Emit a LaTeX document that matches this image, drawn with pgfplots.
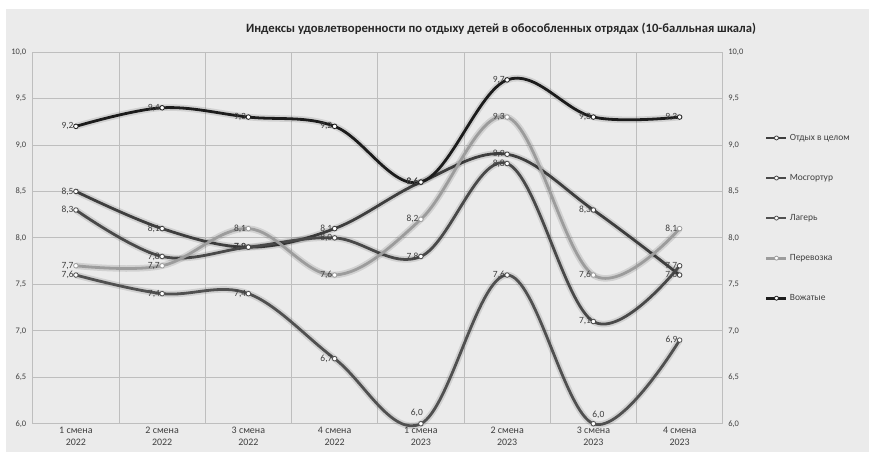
\documentclass[border=0pt]{standalone}
\usepackage{fontspec}
\setmainfont{Carlito}
\usepackage{pgfplots}
\usepackage{pgfplotstable}
\pgfplotsset{compat=1.18}
\definecolor{bgc}{HTML}{EBEBEB}
\definecolor{gridc}{HTML}{BEBEBE}
\definecolor{txtc}{HTML}{404040}
\definecolor{cvoz}{HTML}{1C1C1C}
\definecolor{cper}{HTML}{9C9C9C}
\definecolor{cotd}{HTML}{3E3E3E}
\definecolor{cmos}{HTML}{494949}
\definecolor{clag}{HTML}{505050}

\pgfplotstableread{
x otd mos lag per voz
0 8.5 8.3 7.6 7.7 9.2
1 8.1 7.8 7.4 7.7 9.4
2 7.9 7.9 7.4 8.1 9.3
3 8.1 8.0 6.7 7.6 9.2
4 8.6 7.8 6.0 8.2 8.6
5 8.9 8.8 7.6 9.3 9.7
6 8.3 7.1 6.0 7.6 9.3
7 7.6 7.7 6.9 8.1 9.3
}\data

\begin{document}
\begin{tikzpicture}[x=1bp,y=1bp]
\path[use as bounding box] (0,0) rectangle (869,457);
\fill[white] (0,0) rectangle (869,457);
\fill[bgc] (6,5) rectangle (869,448);
\node[font=\bfseries\fontsize{12.7}{14}\selectfont, text=black!85] at (501,428) {Индексы удовлетворенности по отдыху детей в обособленных отрядах (10-балльная шкала)};
\pgfplotsset{
  glow/.style={forget plot, smooth, tension=0.6, no markers, line width=6.5bp, draw=black, opacity=0.11},
  ser/.style={smooth, tension=0.6, line width=2.8bp, draw=#1, mark=*, mark size=2.3bp,
    mark options={fill=white, draw=#1, line width=0.8bp, solid}},
  lbl/.style={nodes near coords={\pgfmathprintnumber[fixed, fixed zerofill, precision=1, use comma, assume math mode=true]{\pgfplotspointmeta}},
    point meta=y,
    nodes near coords style={anchor=east, font=\fontsize{9.5}{10}\selectfont, text=txtc, inner sep=2bp}},
}
\begin{axis}[
  at={(38,35.8)}, anchor=south west, scale only axis,
  width=690bp, height=371.7bp,
  xmin=-0.5, xmax=7.5, ymin=6, ymax=10,
  clip=false,
  xtick={0,...,7},
  xticklabels={{1 смена\\2022},{2 смена\\2022},{3 смена\\2022},{4 смена\\2022},{1 смена\\2023},{2 смена\\2023},{3 смена\\2023},{4 смена\\2023}},
  xticklabel style={align=center, font=\fontsize{10}{11.5}\selectfont, text=txtc},
  minor xtick={-0.5,0.5,1.5,2.5,3.5,4.5,5.5,6.5,7.5},
  xminorgrids=true, xmajorgrids=false,
  ytick={6,6.5,7,7.5,8,8.5,9,9.5,10},
  ymajorgrids=true,
  grid style={draw=gridc, line width=0.8bp},
  minor grid style={draw=gridc, line width=0.8bp},
  major tick length=0, minor tick length=0,
  axis line style={draw=gridc, line width=0.8bp},
  yticklabel style={font=\fontsize{8.5}{9}\selectfont, text=txtc, xshift=-3bp},
  /pgf/number format/.cd, fixed, fixed zerofill, precision=1, use comma, assume math mode=true, /pgfplots/.cd,
  legend style={at={(1.061,0.785)}, anchor=north west, draw=none, fill=none,
    font=\fontsize{9.5}{11}\selectfont, text=txtc, row sep=28.5bp, inner sep=0pt},
  legend cell align=left,
  legend image code/.code={\draw[#1, mark size=2bp, mark repeat=2, mark phase=2] plot coordinates {(0bp,0bp) (10bp,0bp) (20bp,0bp)};},
]
\addplot[glow] table[x=x,y=otd]{\data};
\addplot[ser=cotd, lbl] table[x=x,y=otd]{\data};
\addlegendentry{Отдых в целом}
\addplot[glow] table[x=x,y=mos]{\data};
\addplot[ser=cmos, lbl] table[x=x,y=mos]{\data};
\addlegendentry{Мосгортур}
\addplot[glow] table[x=x,y=lag]{\data};
\addplot[ser=clag] table[x=x,y=lag]{\data};
\addlegendentry{Лагерь}
\addplot[forget plot, only marks, mark=none, lbl, x filter/.expression={(x==4||x==6) ? nan : x}] table[x=x,y=lag]{\data};
\addplot[forget plot, only marks, mark=none, lbl, nodes near coords style={anchor=south, yshift=5bp, xshift=-4bp}, x filter/.expression={(x==4) ? x : nan}] table[x=x,y=lag]{\data};
\addplot[forget plot, only marks, mark=none, lbl, nodes near coords style={anchor=south, yshift=3bp, xshift=5bp}, x filter/.expression={(x==6) ? x : nan}] table[x=x,y=lag]{\data};
\addplot[glow] table[x=x,y=per]{\data};
\addplot[ser=cper, lbl] table[x=x,y=per]{\data};
\addlegendentry{Перевозка}
\addplot[glow] table[x=x,y=voz]{\data};
\addplot[ser=cvoz, lbl] table[x=x,y=voz]{\data};
\addlegendentry{Вожатые}
\end{axis}
\begin{axis}[
  at={(38,35.8)}, anchor=south west, scale only axis,
  width=690bp, height=371.7bp,
  xmin=-0.5, xmax=7.5, ymin=6, ymax=10,
  xtick=\empty,
  ytick={6,6.5,7,7.5,8,8.5,9,9.5,10},
  yticklabel pos=right,
  major tick length=0,
  axis line style={draw=none},
  yticklabel style={font=\fontsize{8.5}{9}\selectfont, text=txtc, xshift=2bp},
  /pgf/number format/.cd, fixed, fixed zerofill, precision=1, use comma, assume math mode=true, /pgfplots/.cd,
]
\end{axis}
\end{tikzpicture}
\end{document}
